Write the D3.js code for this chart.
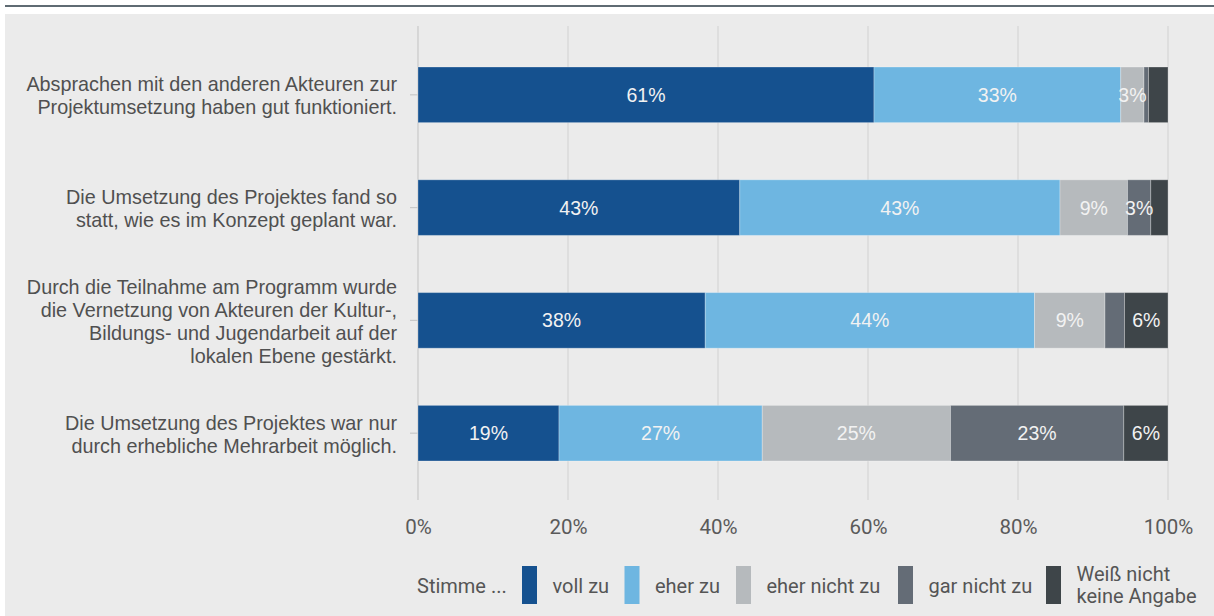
<!DOCTYPE html>
<html>
<head>
<meta charset="utf-8">
<script src="https://cdn.jsdelivr.net/npm/d3@7"></script>
<style>
  html, body { margin: 0; padding: 0; background: #ffffff; }
  svg { display: block; }
</style>
</head>
<body>
<svg id="chart" width="1214" height="616"></svg>
<script>
// Statements (one bar each), split into display lines
const categories = [
  ["Absprachen mit den anderen Akteuren zur", "Projektumsetzung haben gut funktioniert."],
  ["Die Umsetzung des Projektes fand so", "statt, wie es im Konzept geplant war."],
  ["Durch die Teilnahme am Programm wurde", "die Vernetzung von Akteuren der Kultur-,", "Bildungs- und Jugendarbeit auf der", "lokalen Ebene gestärkt."],
  ["Die Umsetzung des Projektes war nur", "durch erhebliche Mehrarbeit möglich."]
];

// Answer shares in percent, one value per statement
const vollZu      = [60.8, 42.9, 38.3, 18.8];
const eherZu      = [32.9, 42.7, 43.9, 27.1];
const eherNichtZu = [3.1, 9.0, 9.4, 25.1];
const garNichtZu  = [0.6, 3.1, 2.6, 23.1];
const weissNicht  = [2.6, 2.3, 5.8, 5.9];

const seriesNames = ["voll zu", "eher zu", "eher nicht zu", "gar nicht zu", "Weiß nicht|keine Angabe"];
const seriesValues = [vollZu, eherZu, eherNichtZu, garNichtZu, weissNicht];
const seriesColors = ["#15518f", "#6eb6e1", "#b6babd", "#646c76", "#3e4549"];

const tickValues = [0, 20, 40, 60, 80, 100];

const svg = d3.select("#chart");
const W = 1214, H = 616;

// page frame: thin rule on top, light panel below
svg.append("rect").attr("x", 5).attr("y", 14).attr("width", W - 5).attr("height", H - 14).attr("fill", "#ebebeb");
svg.append("rect").attr("x", 5).attr("y", 5).attr("width", W - 5).attr("height", 2).attr("fill", "#5f6b73");

const x = d3.scaleLinear().domain([0, 100]).range([418, 1168]);
const y = d3.scaleBand().domain(d3.range(categories.length)).range([38.8, 489.2])
  .paddingInner(0.507).paddingOuter(0.25);

const gridTop = 26, gridBottom = 500;

// vertical grid lines
svg.append("g").selectAll("line").data(tickValues).join("line")
  .attr("x1", d => x(d)).attr("x2", d => x(d))
  .attr("y1", gridTop).attr("y2", gridBottom)
  .attr("stroke", d => d === 0 ? "#c9c9c9" : "#d6d6d6").attr("stroke-width", 1.2);

// small ticks on the category axis
svg.append("g").selectAll("line").data(d3.range(categories.length)).join("line")
  .attr("x1", x(0) - 8).attr("x2", x(0))
  .attr("y1", i => y(i) + y.bandwidth() / 2).attr("y2", i => y(i) + y.bandwidth() / 2)
  .attr("stroke", "#c9c9c9").attr("stroke-width", 1.2);

// x axis labels
const xAxis = d3.axisBottom(x).tickValues(tickValues).tickFormat(d => d + "%").tickSize(0).tickPadding(0);
const gx = svg.append("g").attr("transform", `translate(0, 534)`).call(xAxis);
gx.select(".domain").remove();
gx.selectAll("text")
  .attr("dy", 0)
  .attr("font-family", "Roboto, 'Liberation Sans', sans-serif")
  .attr("font-size", 20.5)
  .attr("fill", "#5a5a5a");

// category labels, one text per line, right-aligned against the axis
const lineH = 23;
const catG = svg.append("g")
  .attr("font-family", "'Liberation Sans', Arial, sans-serif")
  .attr("font-size", 19.8)
  .attr("fill", "#505050")
  .attr("text-anchor", "end");
categories.forEach((lines, i) => {
  const cy = y(i) + y.bandwidth() / 2;
  lines.forEach((ln, k) => {
    catG.append("text")
      .attr("x", 397)
      .attr("y", cy + (k - (lines.length - 1) / 2) * lineH + 8)
      .text(ln);
  });
});

// stacked segments
const stackData = categories.map((c, i) => {
  const row = {};
  seriesNames.forEach((s, j) => row[s] = seriesValues[j][i]);
  return row;
});
const stacked = d3.stack().keys(seriesNames)(stackData);

const segG = svg.append("g").selectAll("g").data(stacked).join("g")
  .attr("fill", (d, j) => seriesColors[j]);

segG.selectAll("rect").data(d => d).join("rect")
  .attr("x", d => x(d[0]))
  .attr("width", d => x(d[1]) - x(d[0]))
  .attr("y", (d, i) => y(i))
  .attr("height", y.bandwidth())
  .attr("stroke", "rgba(255,255,255,0.28)")
  .attr("stroke-width", 1);

// value labels inside segments
const labG = svg.append("g");
stacked.forEach(layer => {
  layer.forEach((d, i) => {
    const v = d[1] - d[0];
    if (v < 3) return;
    labG.append("text")
      .attr("x", (x(d[0]) + x(d[1])) / 2)
      .attr("y", y(i) + y.bandwidth() / 2 + 7)
      .attr("text-anchor", "middle")
      .attr("font-family", "'Liberation Sans', Arial, sans-serif")
      .attr("font-size", 19.5)
      .attr("fill", "#f2f2f2")
      .text(Math.round(v) + "%");
  });
});

// legend
const legG = svg.append("g").attr("font-family", "Roboto, 'Liberation Sans', sans-serif")
  .attr("font-size", 20).attr("fill", "#555555");
legG.append("text").attr("x", 417).attr("y", 593).text("Stimme ...");
const legX = [522, 624.5, 736, 898, 1046];
seriesNames.forEach((s, j) => {
  legG.append("rect").attr("x", legX[j]).attr("y", 566).attr("width", 15).attr("height", 38)
    .attr("fill", seriesColors[j]);
  const parts = s.split("|");
  if (parts.length === 1) {
    legG.append("text").attr("x", legX[j] + 30.5).attr("y", 593).text(parts[0]);
  } else {
    parts.forEach((p, k) => legG.append("text")
      .attr("x", legX[j] + 30.5).attr("y", 581 + k * 22).text(p));
  }
});
</script>
</body>
</html>
